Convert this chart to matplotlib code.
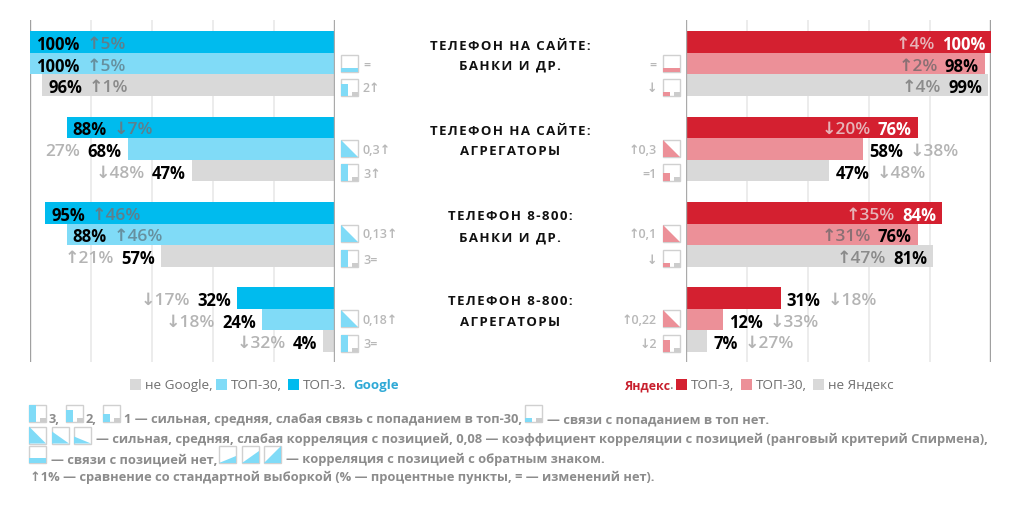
#!/usr/bin/env python
import matplotlib
matplotlib.use('Agg')
import matplotlib.pyplot as plt
from matplotlib.patches import Rectangle, Polygon

plt.rcParams['font.family'] = ['Open Sans', 'DejaVu Sans']

W, H = 1015, 508

titles = [('ТЕЛЕФОН НА САЙТЕ:', 'БАНКИ И ДР.'),
          ('ТЕЛЕФОН НА САЙТЕ:', 'АГРЕГАТОРЫ'),
          ('ТЕЛЕФОН 8-800:', 'БАНКИ И ДР.'),
          ('ТЕЛЕФОН 8-800:', 'АГРЕГАТОРЫ')]

google_vals = [[100, 100, 96], [88, 68, 47], [95, 88, 57], [32, 24, 4]]
google_delta = [['↑5%', '↑5%', '↑1%'], ['↓7%', '27%', '↓48%'],
                ['↑46%', '↑46%', '↑21%'], ['↓17%', '↓18%', '↓32%']]
google_notes = [['=', '2↑'], ['0,3↑', '3↑'], ['0,13↑', '3='], ['0,18↑', '3=']]
google_icons = [[('strip', 0), ('bars', 2)], [('tri', 3), ('bars', 3)],
                [('tri', 3), ('bars', 3)], [('tri', 3), ('bars', 3)]]

yandex_vals = [[100, 98, 99], [76, 58, 47], [84, 76, 81], [31, 12, 7]]
yandex_delta = [['↑4%', '↑2%', '↑4%'], ['↓20%', '↓38%', '↓48%'],
                ['↑35%', '↑31%', '↑47%'], ['↓18%', '↓33%', '↓27%']]
yandex_notes = [['=', '↓'], ['↑0,3', '=1'], ['↑0,1', '↓'], ['↑0,22', '↓2']]
yandex_icons = [[('strip', 0), ('bars', 0)], [('tri', 3), ('bars', 1)],
                [('tri', 3), ('bars', 0)], [('tri', 3), ('bars', 2)]]

ticks = [0, 20, 40, 60, 80, 100]
group_step = 3.95

BLUE, LBLUE = '#00bbee', '#80dbf7'
RED, PINK = '#d42030', '#ec9098'
GREY = '#d9d9d9'
NOTE = '#8c8c8c'
ICON_EDGE = '#d0d0d0'

fig = plt.figure(figsize=(W / 100, H / 100), dpi=100, facecolor='white')


def px_axes(x0, x1, y0, y1):
    return fig.add_axes([x0 / W, 1 - y1 / H, (x1 - x0) / W, (y1 - y0) / H])


def setup_panel(ax, xlim):
    ax.set_xlim(*xlim)
    ax.set_ylim(14.81, -1.02)
    ax.patch.set_alpha(0)
    for s in ax.spines.values():
        s.set_visible(False)
    ax.tick_params(left=False, bottom=False, labelleft=False, labelbottom=False)
    ax.set_xticks(ticks)
    ax.set_axisbelow(True)
    ax.grid(axis='x', color='#ececec', lw=1.4)
    ax.axvline(0, color='#aaaaaa', lw=1.7, zorder=5)
    ax.axvline(100, color='#a0a0a0', lw=1.7, zorder=1)


def panel(ax, vals, deltas, colours, sign):
    # sign: -1 when bars grow to the left
    fig.canvas.draw()
    r = fig.canvas.get_renderer()
    for i, (row, drow) in enumerate(zip(vals, deltas)):
        for j, (v, d) in enumerate(zip(row, drow)):
            y = i * group_step + j
            ax.barh(y, v, height=1.0, color=colours[j], zorder=3)
            inside = v >= 70
            # text runs back toward the baseline when inside
            way = -sign if inside else sign
            ha = 'right' if way < 0 else 'left'
            vc = 'white' if inside and sign > 0 and j == 0 else 'black'
            t = ax.annotate(f'{v}%', (v, y), xytext=(way * 6, -1), textcoords='offset pixels',
                            ha=ha, va='center_baseline', fontsize=12, fontweight='bold',
                            color=vc, zorder=6)
            w = t.get_window_extent(r).width
            if not inside:
                dc = '#b4b4b4'
            elif j == 0 and sign > 0:
                dc = '#e6b4b8'
            elif j == 0:
                dc = '#5f7f8c'
            elif j == 1 and sign > 0:
                dc = '#8a7074'
            elif j == 1:
                dc = '#66909f'
            else:
                dc = '#8a8a8a'
            ax.annotate(d, (v, y), xytext=(way * (6 + w + 7), -1), textcoords='offset pixels',
                        ha=ha, va='center_baseline', fontsize=12.5, fontweight='semibold',
                        color=dc, zorder=6)


def icon(ov, x, y, kind, level, c, up=False, size=17):
    ov.add_patch(Rectangle((x, y), size, size, fc='white', ec=ICON_EDGE, lw=1))
    b = y + size
    if kind == 'strip':
        ov.add_patch(Rectangle((x, b - 4.5), size, 4.5, fc=c, lw=0))
    elif kind == 'bars':
        h = {0: 4.5, 1: 8, 2: 12.5, 3: 17}[level]
        ov.add_patch(Rectangle((x, b - h), 7, h, fc=c, lw=0))
        ov.add_patch(Rectangle((x + 11, b - 4), 6, 4, fc='#cccccc', lw=0))
    else:
        h = {1: 7, 2: 12, 3: 17}[level]
        if up:
            pts = [(x, b), (x + size, b), (x + size, b - h)]
        else:
            pts = [(x, b), (x + size, b), (x, b - h)]
        ov.add_patch(Polygon(pts, fc=c, lw=0))


def spaced(s):
    return '\u200a'.join(s)


left = px_axes(30, 335, 20, 362)
setup_panel(left, (100, 0))
right = px_axes(686, 991, 20, 362)
setup_panel(right, (0, 100))

panel(left, google_vals, google_delta, [BLUE, LBLUE, GREY], -1)
panel(right, yandex_vals, yandex_delta, [RED, PINK, GREY], 1)

ov = fig.add_axes([0, 0, 1, 1], zorder=10)
ov.set_xlim(0, W)
ov.set_ylim(H, 0)
ov.axis('off')
ov.patch.set_alpha(0)

icon_y = [(55, 79), (140, 164), (225, 250), (310, 335)]
for i in range(4):
    for k in range(2):
        kind, lev = google_icons[i][k]
        icon(ov, 341, icon_y[i][k], kind, lev, LBLUE)
        ov.text(363, icon_y[i][k] + 10, google_notes[i][k], ha='left', va='center',
                fontsize=9, fontweight='semibold', color='#b8b8b8')
        kind, lev = yandex_icons[i][k]
        icon(ov, 663, icon_y[i][k], kind, lev, PINK)
        ov.text(657, icon_y[i][k] + 10, yandex_notes[i][k], ha='right', va='center',
                fontsize=9, fontweight='semibold', color='#b8b8b8')

title_base = [(50, 70), (135, 155), (220, 241), (305, 326)]
for (a, b), (ya, yb) in zip(titles, title_base):
    ov.text(510, ya, spaced(a), ha='center', va='baseline', fontsize=9.5, fontweight='bold', color='#111111')
    ov.text(510, yb, spaced(b), ha='center', va='baseline', fontsize=9.5, fontweight='bold', color='#111111')

# legends under the panels
leg_font = dict(va='baseline', fontsize=9.7, color='#6e6e6e')
for x, c in [(130, GREY), (216, LBLUE), (288, BLUE), (676, RED), (741, PINK), (813, GREY)]:
    ov.add_patch(Rectangle((x, 378.5), 11, 11, fc=c, lw=0))
for x, s in [(145, 'не Google,'), (231, 'ТОП-30,'), (303, 'ТОП-3.'), (691, 'ТОП-3,'),
             (756, 'ТОП-30,'), (828, 'не Яндекс')]:
    ov.text(x, 389, s, **leg_font)
ov.text(353, 389, 'Google', va='baseline', fontsize=9.5, fontweight='bold', color='#2fa9d6')
ov.text(624, 389, 'Яндекс', va='baseline', fontsize=8.9, fontweight='bold', color='#c8202e')
ov.text(670, 389, '.', **leg_font)

# notes at the bottom
nf = dict(va='baseline', fontsize=9.3, fontweight='bold', color=NOTE)
ov.text(49, 423, '3,', **nf)
ov.text(86, 423, '2,', **nf)
ov.text(124, 423, '1 — сильная, средняя, слабая связь с попаданием в топ-30,', **nf)
ov.text(547, 423, '— связи с попаданием в топ нет.', **nf)
ov.text(96, 443, '— сильная, средняя, слабая корреляция с позицией, 0,08 — коэффициент корреляции '
                 'с позицией (ранговый критерий Спирмена),', **nf)
ov.text(51, 463, '— связи с позицией нет,', **nf)
ov.text(286, 463, '— корреляция с позицией с обратным знаком.', **nf)
ov.text(30, 481, '↑1% — сравнение со стандартной выборкой (% — процентные пункты, = — изменений нет).', **nf)

for x, lev in [(29, 3), (66, 2), (103, 1)]:
    icon(ov, x, 405, 'bars', lev, LBLUE)
icon(ov, 525, 405, 'bars', 0, LBLUE)
for x, lev in [(29, 3), (52, 2), (74, 1)]:
    icon(ov, x, 426.5, 'tri', lev, LBLUE)
icon(ov, 29, 445.5, 'strip', 0, LBLUE)
for x, lev in [(219, 1), (242, 2), (264, 3)]:
    icon(ov, x, 445.5, 'tri', lev, LBLUE, up=True)

fig.savefig('out.png', dpi=100)
